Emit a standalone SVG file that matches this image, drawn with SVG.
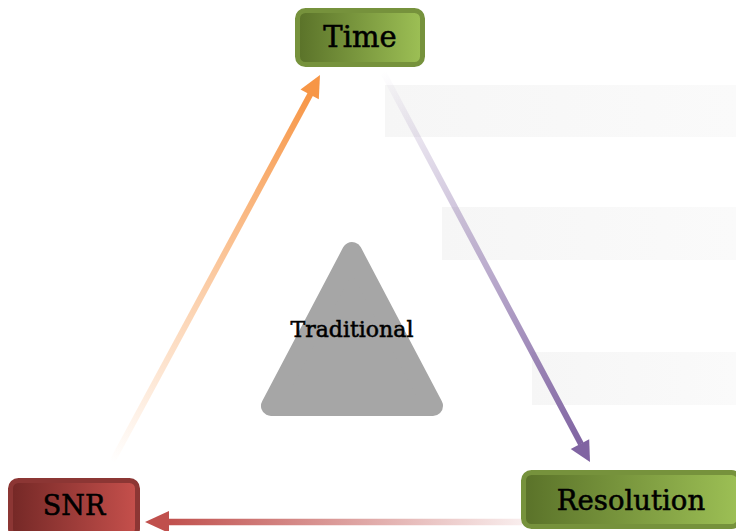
<svg xmlns="http://www.w3.org/2000/svg" width="736" height="531" viewBox="0 0 736 531">
  <defs>
    <linearGradient id="gGreen" x1="0" y1="0" x2="1" y2="0">
      <stop offset="0" stop-color="#5a7229"/>
      <stop offset="1" stop-color="#9dc055"/>
    </linearGradient>
    <linearGradient id="gRed" x1="0" y1="0" x2="1" y2="0">
      <stop offset="0" stop-color="#742826"/>
      <stop offset="1" stop-color="#c6504c"/>
    </linearGradient>
    <linearGradient id="gBand" x1="0" y1="0" x2="1" y2="0">
      <stop offset="0" stop-color="#f6f6f6"/>
      <stop offset="1" stop-color="#fafafa"/>
    </linearGradient>
    <linearGradient id="gOrange" gradientUnits="userSpaceOnUse" x1="112" y1="462" x2="312" y2="92">
      <stop offset="0" stop-color="#f79646" stop-opacity="0"/>
      <stop offset="1" stop-color="#f79646" stop-opacity="1"/>
    </linearGradient>
    <linearGradient id="gPurple" gradientUnits="userSpaceOnUse" x1="383" y1="72" x2="580" y2="444">
      <stop offset="0" stop-color="#8064a2" stop-opacity="0"/>
      <stop offset="1" stop-color="#8064a2" stop-opacity="1"/>
    </linearGradient>
    <linearGradient id="gRedLine" gradientUnits="userSpaceOnUse" x1="522" y1="522" x2="168" y2="522">
      <stop offset="0" stop-color="#c0504d" stop-opacity="0.1"/>
      <stop offset="1" stop-color="#c0504d" stop-opacity="1"/>
    </linearGradient>
    <style>
      .lbl { font-family: "DejaVu Serif", "Liberation Serif", serif; font-weight: normal; fill: #000; stroke: #000; stroke-width: 0.55; text-anchor: middle; }
      .gnode { fill: url(#gGreen); stroke: #76923c; stroke-width: 5; }
      .rnode { fill: url(#gRed); stroke: #8c3634; stroke-width: 5; }
      .band { fill: url(#gBand); }
    </style>
  </defs>
  <rect x="0" y="0" width="736" height="531" fill="#ffffff"/>

  <g id="bands">
    <rect class="band" x="385" y="85" width="351" height="52"/>
    <rect class="band" x="442" y="207" width="294" height="53"/>
    <rect class="band" x="532" y="352" width="204" height="53"/>
  </g>

  <g id="traditional">
    <polygon points="352,252 271,406 433,406" fill="#a6a6a6" stroke="#a6a6a6" stroke-width="20" stroke-linejoin="round"/>
    <text class="lbl" x="352" y="337" font-size="22">Traditional</text>
  </g>

  <g id="connectors">
    <line x1="112" y1="462" x2="311" y2="93" stroke="url(#gOrange)" stroke-width="6"/>
    <polygon points="320,75 300.5,89.5 318.8,99.3" fill="#f79646"/>
    <line x1="383" y1="72" x2="581" y2="444" stroke="url(#gPurple)" stroke-width="6"/>
    <polygon points="590,462 570.7,449 589.2,439.3" fill="#8064a2"/>
    <line x1="522" y1="522" x2="166" y2="522" stroke="url(#gRedLine)" stroke-width="6.5"/>
    <polygon points="145,522 169,511 169,533" fill="#c0504d"/>
  </g>

  <g id="time">
    <rect class="gnode" x="297.5" y="10.5" width="125" height="54" rx="8"/>
    <text class="lbl" x="360" y="47" font-size="29">Time</text>
  </g>

  <g id="resolution">
    <rect class="gnode" x="523.5" y="472.5" width="216" height="54" rx="8"/>
    <text class="lbl" x="631" y="510" font-size="27.5">Resolution</text>
  </g>

  <g id="snr">
    <rect class="rnode" x="10.5" y="480.5" width="127" height="56" rx="8"/>
    <text class="lbl" x="74" y="515" font-size="27">SNR</text>
  </g>
</svg>
